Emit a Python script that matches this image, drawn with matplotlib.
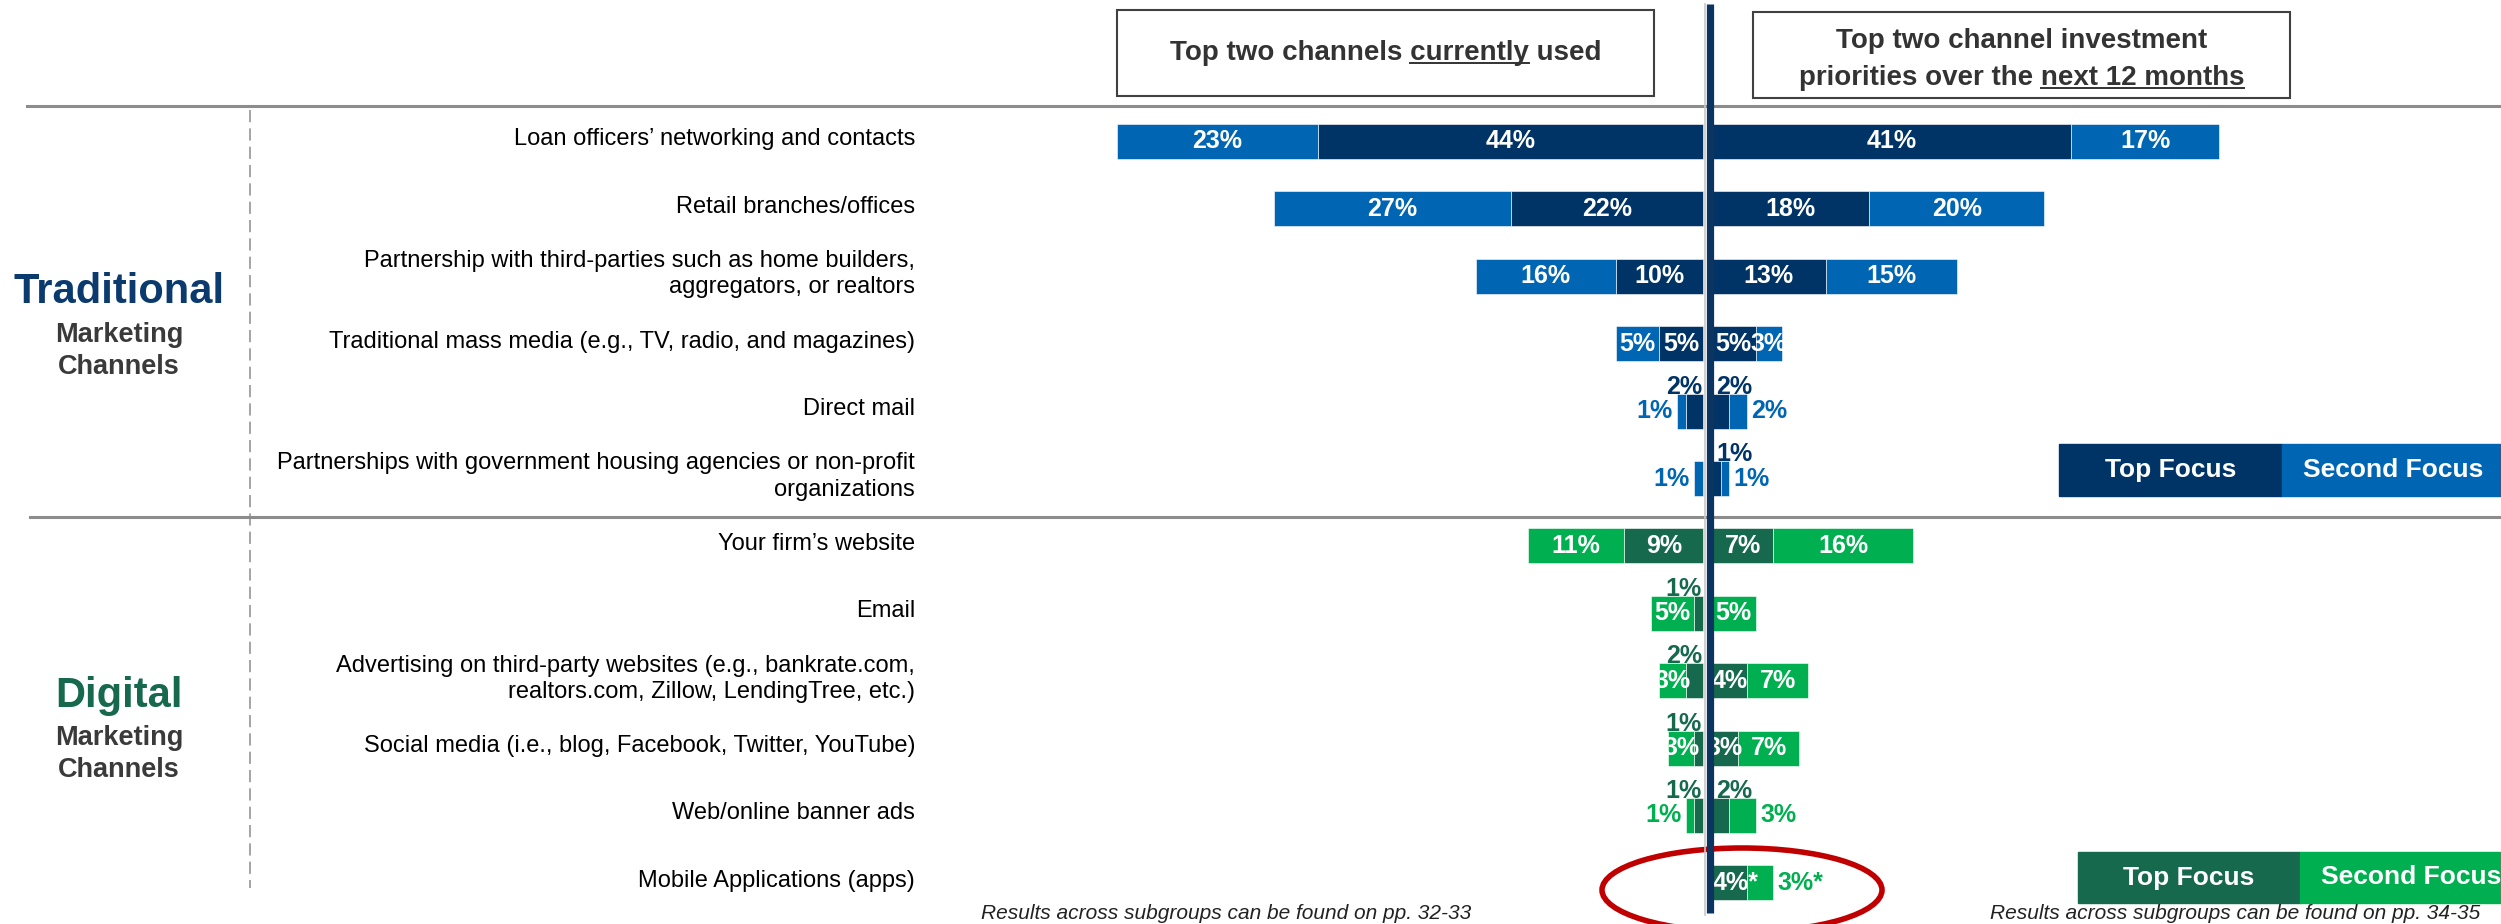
import numpy as np
import matplotlib
matplotlib.use('Agg')
import matplotlib.pyplot as plt
from matplotlib.patches import Rectangle, Ellipse

plt.rcParams['font.family'] = ['Liberation Sans', 'DejaVu Sans']

categories = [
    'Loan officers\u2019 networking and contacts',
    'Retail branches/offices',
    'Partnership with third-parties such as home builders,\naggregators, or realtors',
    'Traditional mass media (e.g., TV, radio, and magazines)',
    'Direct mail',
    'Partnerships with government housing agencies or non-profit\norganizations',
    'Your firm\u2019s website',
    'Email',
    'Advertising on third-party websites (e.g., bankrate.com,\nrealtors.com, Zillow, LendingTree, etc.)',
    'Social media (i.e., blog, Facebook, Twitter, YouTube)',
    'Web/online banner ads',
    'Mobile Applications (apps)',
]
n_traditional = 6

# currently used (left side) and next-12-month priorities (right side), in %
current_top = [44, 22, 10, 5, 2, 0, 9, 1, 2, 1, 1, 0]
current_second = [23, 27, 16, 5, 1, 1, 11, 5, 3, 3, 1, 0]
future_top = [41, 18, 13, 5, 2, 1, 7, 0, 4, 3, 2, 4]
future_second = [17, 20, 15, 3, 2, 1, 16, 5, 7, 7, 3, 3]
future_note = [''] * 11 + ['*']
# second-focus values printed beside the bar instead of inside it
beside_future_second = [10, 11]

legend_labels = ['Top Focus', 'Second Focus']

navy, blue = '#003366', '#0066b3'
dgreen, green = '#17694d', '#00b050'

W, H = 2501, 924
zero_px, px_per_pct = 1707.5, 8.75
row0_px, row_px = 141.5, 67.4
gap = 0.5
bar_h = 0.52

fig = plt.figure(figsize=(W / 100, H / 100), dpi=100)
ax = fig.add_axes([0, 0, 1, 1])
ax.set_xlim(-zero_px / px_per_pct, (W - zero_px) / px_per_pct)
ax.set_ylim((H - row0_px) / row_px, -row0_px / row_px)
ax.axis('off')

deco = fig.add_axes([0, 0, 1, 1], zorder=3)
deco.set_xlim(0, W)
deco.set_ylim(H, 0)
deco.axis('off')
deco.patch.set_alpha(0)

n = len(categories)
y = np.arange(n)
top_col = [navy if i < n_traditional else dgreen for i in range(n)]
sec_col = [blue if i < n_traditional else green for i in range(n)]

ct, cs = np.array(current_top), np.array(current_second)
ft, fs = np.array(future_top), np.array(future_second)

bar_kw = dict(height=bar_h, edgecolor='white', linewidth=0.4)
ax.barh(y, -ct, left=-gap, color=top_col, **bar_kw)
ax.barh(y, -cs, left=-gap - ct, color=sec_col, **bar_kw)
ax.barh(y, ft, left=gap, color=top_col, **bar_kw)
ax.barh(y, fs, left=gap + ft, color=sec_col, **bar_kw)

lab_kw = dict(fontsize=18, fontweight='bold')


def put_label(i, val, x0, x1, side, is_top, force_beside=False, suffix=''):
    if val == 0:
        return
    txt = f'{val}%{suffix}'
    if val > 2 and not force_beside:
        # keep the number itself centred when a footnote mark is appended
        xc = (x0 + x1) / 2 + (0.7 if suffix else 0)
        ax.text(xc, i, txt, ha='center', va='center', color='white', **lab_kw)
    elif is_top:
        xc = -2.7 if side < 0 else 3.1
        ax.text(xc, i - bar_h / 2, txt, ha='center', va='baseline',
                color=top_col[i], **lab_kw)
    else:
        outer = x1 if side > 0 else x0
        ax.text(outer + 0.5 * side, i, txt, ha='left' if side > 0 else 'right',
                va='center', color=sec_col[i], **lab_kw)


for i in range(n):
    put_label(i, ct[i], -gap - ct[i], -gap, -1, True)
    put_label(i, cs[i], -gap - ct[i] - cs[i], -gap - ct[i], -1, False)
    put_label(i, ft[i], gap, gap + ft[i], 1, True, suffix=future_note[i])
    put_label(i, fs[i], gap + ft[i], gap + ft[i] + fs[i], 1, False,
              force_beside=i in beside_future_second, suffix=future_note[i])

# channel names
label_x = (915 - zero_px) / px_per_pct
for i, c in enumerate(categories):
    ax.text(label_x, i - 0.03, c, ha='right', va='center', fontsize=17,
            color='#000000', linespacing=1.25)

# separators
deco.plot([27, W], [106, 106], color='#8c8c8c', lw=2.2)
deco.plot([30, W], [517, 517], color='#8c8c8c', lw=2.2)
deco.plot([250, 250], [110, 888], color='#8c8c8c', lw=1.1, dashes=(8, 4))
deco.plot([1705, 1705], [4, 915], color='#c8c8c8', lw=1.2)
deco.plot([1709.5, 1709.5], [4, 913], color='#0b3460', lw=5.2,
          solid_capstyle='butt')

# group names
grp_kw = dict(ha='center', va='center', fontweight='bold')
deco.text(119, 292, 'Traditional', fontsize=30, color='#0b3a6e', **grp_kw)
deco.text(119, 335, 'Marketing', fontsize=19.5, color='#3a3a3a', **grp_kw)
deco.text(119, 367, 'Channels', fontsize=19.5, color='#3a3a3a', **grp_kw)
deco.text(119, 696, 'Digital', fontsize=30, color=dgreen, **grp_kw)
deco.text(119, 738, 'Marketing', fontsize=19.5, color='#3a3a3a', **grp_kw)
deco.text(119, 770, 'Channels', fontsize=19.5, color='#3a3a3a', **grp_kw)

# header boxes
head_kw = dict(fontsize=20, fontweight='bold', color='#333333')
renderer = fig.canvas.get_renderer()


def text_width(s):
    t = deco.text(0, 0, s, **head_kw)
    w = t.get_window_extent(renderer).width
    t.remove()
    return w


def underlined(x, yy, before, word, after):
    t = deco.text(x, yy, before + word + after, ha='center', va='center', **head_kw)
    bb = t.get_window_extent(renderer)
    x_end = bb.x0 + text_width(before + word)
    x_start = x_end - text_width(word)
    uy = H - bb.y0 - 3
    deco.plot([x_start, x_end], [uy, uy], color='#333333', lw=1.4)


deco.add_patch(Rectangle((1117, 10), 537, 86, fill=False, ec='#404040', lw=1.5))
underlined(1385.5, 53, 'Top two channels ', 'currently', ' used')
deco.add_patch(Rectangle((1753, 12), 537, 86, fill=False, ec='#404040', lw=1.5))
deco.text(2021.5, 41, 'Top two channel investment', ha='center', va='center', **head_kw)
underlined(2021.5, 78, 'priorities over the ', 'next 12 months', '')

# legends
for (x0, y0, w, h, cols) in [(2059, 444, 223, 52, (navy, blue)),
                             (2078, 852, 222, 51, (dgreen, green))]:
    for k, (col, lab) in enumerate(zip(cols, legend_labels)):
        deco.add_patch(Rectangle((x0 + k * w, y0), w, h, color=col))
        deco.text(x0 + k * w + w / 2, y0 + h / 2, lab, ha='center', va='center',
                  fontsize=19, fontweight='bold', color='white')

# highlight for mobile apps
deco.add_patch(Ellipse((1742, 890), 280, 84, fill=False, ec='#c00000', lw=4))

foot_kw = dict(fontsize=15, style='italic', color='#222222', va='baseline')
deco.text(981, 919, 'Results across subgroups can be found on pp. 32-33', **foot_kw)
deco.text(1990, 919, 'Results across subgroups can be found on pp. 34-35', **foot_kw)

fig.savefig('out.png', dpi=100)
